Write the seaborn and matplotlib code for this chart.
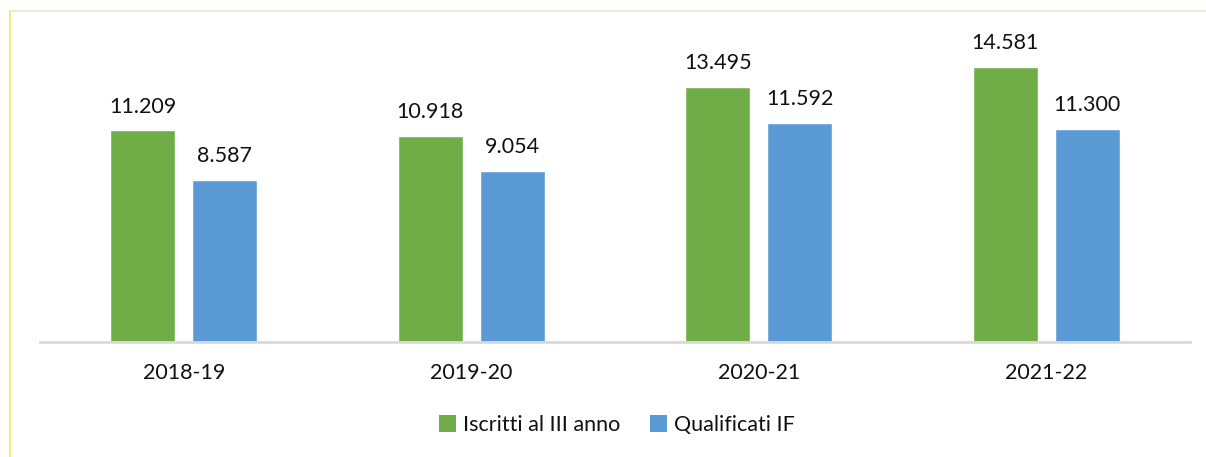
import matplotlib
matplotlib.use("Agg")
import matplotlib.pyplot as plt
from matplotlib.lines import Line2D
from matplotlib.patches import Patch
import seaborn as sns
import pandas as pd

# Data
years = ["2018-19", "2019-20", "2020-21", "2021-22"]
iscritti = [11209, 10918, 13495, 14581]
qualificati = [8587, 9054, 11592, 11300]
series_names = ["Iscritti al III anno", "Qualificati IF"]
colors = ["#70AD47", "#5B9BD5"]

df = pd.DataFrame({
    "anno": years * 2,
    "valore": iscritti + qualificati,
    "serie": [series_names[0]] * len(years) + [series_names[1]] * len(years),
})

sns.set_theme(style="white")
plt.rcParams["font.family"] = ["Lato", "DejaVu Sans"]

W, H = 1206, 457
fig = plt.figure(figsize=(W / 100, H / 100), dpi=100)
ax_left, ax_right, ax_bottom, ax_top = 40, 1190, 342, 40
ax = fig.add_axes([ax_left / W, (H - ax_bottom) / H,
                   (ax_right - ax_left) / W, (ax_bottom - ax_top) / H])

sns.barplot(data=df, x="anno", y="valore", hue="serie", hue_order=series_names,
            palette=colors, width=0.57, gap=0.207, saturation=1, ax=ax,
            legend=False)

ax.set_xlim(-0.5, len(years) - 0.5)
ax.set_ylim(0, 16000)

for container in ax.containers:
    ax.bar_label(container, labels=[f"{v:,.0f}".replace(",", ".") for v in container.datavalues],
                 padding=10, fontsize=15.5, color="#111111")

for side in ["left", "right", "top"]:
    ax.spines[side].set_visible(False)
ax.spines["bottom"].set_color("#d9d9d9")
ax.spines["bottom"].set_linewidth(2)
ax.set_yticks([])
ax.set_xlabel("")
ax.set_ylabel("")
ax.tick_params(axis="x", length=0, pad=15, labelsize=15.5, labelcolor="#111111")

handles = [Patch(facecolor=c, edgecolor="none") for c in colors]
fig.legend(handles, series_names, loc="center", bbox_to_anchor=(617 / W, 1 - 425 / H),
           ncol=2, frameon=False, fontsize=15.5, handlelength=0.8, handleheight=0.8,
           handletextpad=0.3, columnspacing=1.4, labelcolor="#111111")

# Frame edges
fig.add_artist(Line2D([10 / W, 10 / W], [0, 1 - 11 / H], transform=fig.transFigure,
                      color="#eeee77", linewidth=1.5))
fig.add_artist(Line2D([10 / W, 1], [1 - 11 / H, 1 - 11 / H], transform=fig.transFigure,
                      color="#e6e6c6", linewidth=1.2))

fig.savefig("out.png", dpi=100)
